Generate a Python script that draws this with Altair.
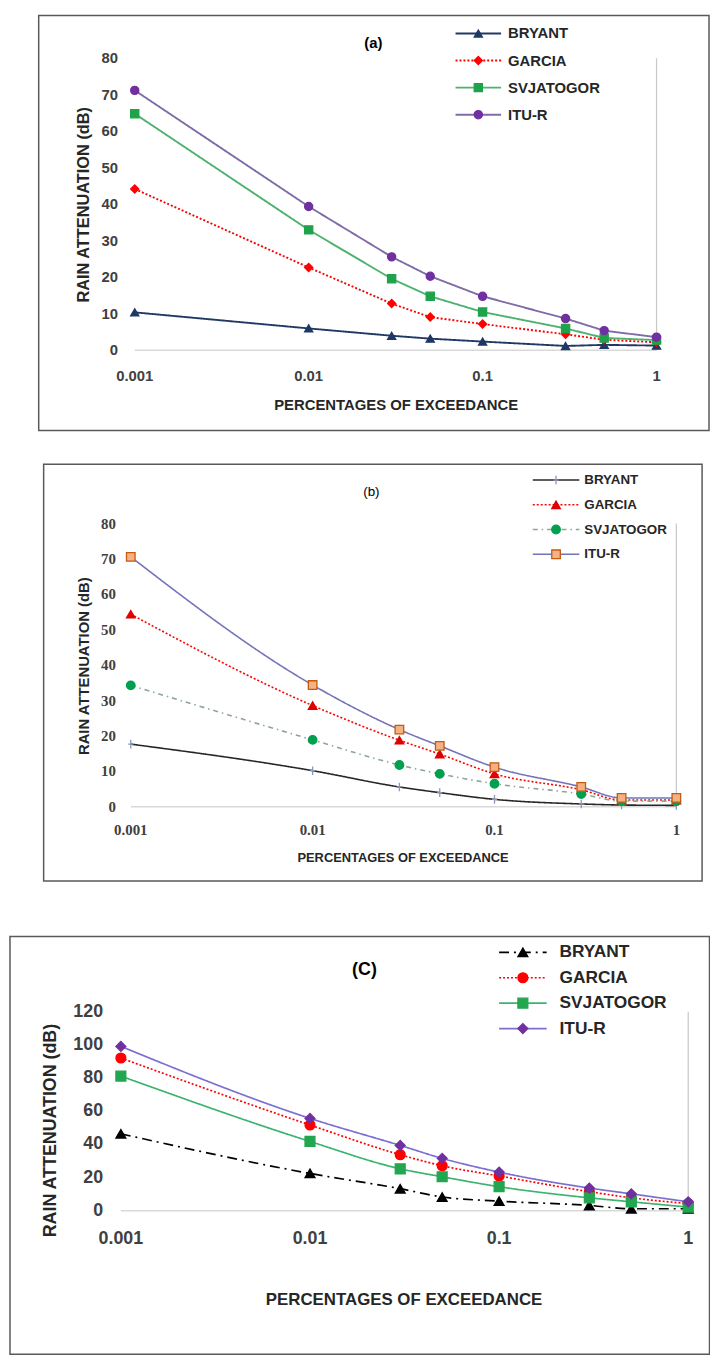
import altair as alt
import pandas as pd

# ---------------- data ----------------
X_PCT = [0.001, 0.01, 0.03, 0.05, 0.1, 0.3, 0.5, 1]
SERIES = ["BRYANT", "GARCIA", "SVJATOGOR", "ITU-R"]
X_TICKS = [0.001, 0.01, 0.1, 1]
Y_TICKS_AB = [0, 10, 20, 30, 40, 50, 60, 70, 80]
Y_TICKS_C = [0, 20, 40, 60, 80, 100, 120]
TITLES = ["(a)", "(b)", "(C)"]
X_TITLE = "PERCENTAGES OF EXCEEDANCE"
Y_TITLE = "RAIN ATTENUATION (dB)"

A_BRYANT = [10.4, 6.0, 4.0, 3.2, 2.4, 1.2, 1.5, 1.3]
A_GARCIA = [44.2, 22.7, 12.8, 9.1, 7.2, 4.4, 2.9, 2.2]
A_SVJATOGOR = [64.8, 33.0, 19.6, 14.8, 10.5, 6.0, 3.4, 2.8]
A_ITUR = [71.2, 39.4, 25.6, 20.3, 14.8, 8.7, 5.4, 3.6]

B_BRYANT = [17.7, 10.2, 5.6, 4.0, 2.1, 0.8, 0.5, 0.4]
B_GARCIA = [54.4, 28.6, 18.8, 14.9, 9.3, 4.8, 1.9, 1.9]
B_SVJATOGOR = [34.3, 18.9, 11.8, 9.3, 6.5, 3.6, 1.6, 1.6]
B_ITUR = [70.6, 34.4, 21.8, 17.2, 11.2, 5.6, 2.5, 2.5]

C_BRYANT = [46.4, 22.5, 13.3, 8.3, 5.8, 3.2, 1.2, 1.2]
C_GARCIA = [92.1, 51.7, 33.8, 27.1, 21.0, 11.5, 7.8, 4.3]
C_SVJATOGOR = [81.2, 41.8, 25.3, 20.5, 14.5, 7.8, 5.4, 2.2]
C_ITUR = [99.1, 55.7, 39.4, 31.6, 23.3, 13.7, 10.2, 5.4]

DATA = [
    [A_BRYANT, A_GARCIA, A_SVJATOGOR, A_ITUR],
    [B_BRYANT, B_GARCIA, B_SVJATOGOR, B_ITUR],
    [C_BRYANT, C_GARCIA, C_SVJATOGOR, C_ITUR],
]
Y_TICKS = [Y_TICKS_AB, Y_TICKS_AB, Y_TICKS_C]


def frame(cols):
    rows = []
    for s, ys in zip(SERIES, cols):
        for x, y in zip(X_PCT, ys):
            rows.append({"x": x, "y": y, "series": s})
    return pd.DataFrame(rows)


# ---------------- layout / style ----------------
W, H = 709, 1354
FS_ = "Liberation Sans, Arial, sans-serif"
FSER = "Liberation Serif, Times New Roman, serif"
PLUS = "M0,-1L0,1M-0.6,0L0.6,0"
TXT = "#262626"
TICK = "#404040"

PANELS = [
    dict(x0=128, x1=655, yb=339, yt=44, ymax=80,
         border=(31, 708, 0.75, 420), title=(369, 29), title_fs=15, title_fw="bold",
         xlab_y=365, ylab_x=111, tick_font=FS_, tick_fs=15,
         xtitle=(392, 394), xtitle_fs=15, ytitle=(77, 192), ytitle_fs=16.5,
         leg_lx=(452, 498), leg_lab=505, leg_rows=(19, 101), leg_fs=15,
         line_colors=["#203864", "#ff0000", "#4cb270", "#7f6ba8"],
         dashes=[[1, 0], [2, 2], [1, 0], [1, 0]], interp="linear", lw=1.9,
         shapes=["triangle-up", "diamond", "square", "circle"],
         fills=["#1f3864", "#ff0000", "#1fa34a", "#7030a0"],
         strokes=["#1f3864", "#ff0000", "#1fa34a", "#7030a0"], size=68),
    dict(x0=124, x1=675, yb=800, yt=514, ymax=80,
         border=(36, 701, 454, 875), title=(367, 482), title_fs=13.5, title_fw="normal",
         xlab_y=824, ylab_x=109, tick_font=FSER, tick_fs=15,
         xtitle=(399, 852), xtitle_fs=13, ytitle=(77, 658), ytitle_fs=15,
         leg_lx=(530, 577), leg_lab=582, leg_rows=(470, 545), leg_fs=13.5,
         line_colors=["#262626", "#ff0000", "#8da696", "#7373b8"],
         dashes=[[1, 0], [2, 2], [5, 4, 1.5, 4], [1, 0]], interp="monotone", lw=1.6,
         shapes=[PLUS, "triangle-up", "circle", "square"],
         fills=["transparent", "#e00000", "#00a050", "#f4b183"],
         strokes=["#8c96b8", "#e00000", "#00a050", "#c55a11"], size=75),
    dict(x0=114, x1=687, yb=1208, yt=1007, ymax=120,
         border=(2, 708.5, 931, 1353), title=(360, 965), title_fs=18, title_fw="bold",
         xlab_y=1237, ylab_x=96, tick_font=FS_, tick_fs=18,
         xtitle=(400, 1298), xtitle_fs=17, ytitle=(43, 1127), ytitle_fs=18,
         leg_lx=(496, 544), leg_lab=557, leg_rows=(947, 1024), leg_fs=17.5,
         line_colors=["#000000", "#ff0000", "#3cb371", "#7b6fd0"],
         dashes=[[10, 5, 2, 5], [2, 2], [1, 0], [1, 0]], interp="monotone", lw=1.7,
         shapes=["triangle-up", "circle", "square", "diamond"],
         fills=["#000000", "#ff0000", "#22a64f", "#7030a0"],
         strokes=["#000000", "#ff0000", "#22a64f", "#7030a0"], size=100),
]


def enc_styles(g, field="series:N"):
    return dict(
        color=alt.Color(field, scale=alt.Scale(domain=SERIES, range=g["line_colors"]), legend=None),
        strokeDash=alt.StrokeDash(field, scale=alt.Scale(domain=SERIES, range=g["dashes"]), legend=None),
    )


def enc_markers(g, field="series:N"):
    return dict(
        shape=alt.Shape(field, scale=alt.Scale(domain=SERIES, range=g["shapes"]), legend=None),
        fill=alt.Fill(field, scale=alt.Scale(domain=SERIES, range=g["fills"]), legend=None),
        stroke=alt.Stroke(field, scale=alt.Scale(domain=SERIES, range=g["strokes"]), legend=None),
    )


def panel(cols, yticks, g, title):
    df = frame(cols)
    xs = alt.Scale(type="log", domain=[0.001, 1], range=[g["x0"], g["x1"]], nice=False)
    ys = alt.Scale(domain=[0, g["ymax"]], range=[g["yb"], g["yt"]], nice=False, zero=True)

    lines = alt.Chart(df).mark_line(strokeWidth=g["lw"], interpolate=g["interp"]).encode(
        x=alt.X("x:Q", scale=xs, axis=None),
        y=alt.Y("y:Q", scale=ys, axis=None),
        **enc_styles(g),
    )
    pts = alt.Chart(df).mark_point(filled=True, opacity=1, size=g["size"], strokeWidth=1.3).encode(
        x=alt.X("x:Q", scale=xs, axis=None),
        y=alt.Y("y:Q", scale=ys, axis=None),
        **enc_markers(g),
    )
    # x axis baseline at 0 and grey edge line at x = 1
    base_df = pd.DataFrame({"x": [X_TICKS[0]], "x2": [X_TICKS[-1]], "y": [0]})
    baseline = alt.Chart(base_df).mark_rule(color="#d9d9d9", strokeWidth=1.5).encode(
        x=alt.X("x:Q", scale=xs, axis=None), x2="x2:Q",
        y=alt.Y("y:Q", scale=ys, axis=None),
    )
    edge_df = pd.DataFrame({"x": [X_TICKS[-1]], "y": [0], "y2": [g["ymax"]]})
    edge = alt.Chart(edge_df).mark_rule(color="#c8c8c8", strokeWidth=1.2).encode(
        x=alt.X("x:Q", scale=xs, axis=None),
        y=alt.Y("y:Q", scale=ys, axis=None), y2="y2:Q",
    )
    # tick labels through the scales
    xt_df = pd.DataFrame({"v": X_TICKS, "lab": [f"{v:g}" for v in X_TICKS]})
    xlabels = alt.Chart(xt_df).mark_text(
        font=g["tick_font"], fontSize=g["tick_fs"], fontWeight="bold", color=TICK,
        align="center", baseline="middle",
    ).encode(x=alt.X("v:Q", scale=xs, axis=None), y=alt.value(g["xlab_y"]), text="lab:N")
    yt_df = pd.DataFrame({"v": yticks, "lab": [str(v) for v in yticks]})
    ylabels = alt.Chart(yt_df).mark_text(
        font=g["tick_font"], fontSize=g["tick_fs"], fontWeight="bold", color=TICK,
        align="right", baseline="middle",
    ).encode(y=alt.Y("v:Q", scale=ys, axis=None), x=alt.value(g["ylab_x"]), text="lab:N")
    # axis titles
    xt = alt.Chart(alt.Data(values=[{"t": X_TITLE}])).mark_text(
        font=FS_, fontSize=g["xtitle_fs"], fontWeight="bold", color=TXT,
        align="center", baseline="middle",
    ).encode(x=alt.value(g["xtitle"][0]), y=alt.value(g["xtitle"][1]), text="t:N")
    yt = alt.Chart(alt.Data(values=[{"t": Y_TITLE}])).mark_text(
        font=FS_, fontSize=g["ytitle_fs"], fontWeight="bold", color=TXT,
        align="center", baseline="middle", angle=270,
    ).encode(x=alt.value(g["ytitle"][0]), y=alt.value(g["ytitle"][1]), text="t:N")
    # frame and panel title
    bx0, bx1, by0, by1 = g["border"]
    border = alt.Chart(alt.Data(values=[{"k": 1}])).mark_rect(
        fill="transparent", stroke="#595959", strokeWidth=1.5
    ).encode(x=alt.value(bx0), x2=alt.value(bx1), y=alt.value(by0), y2=alt.value(by1))
    ttl = alt.Chart(alt.Data(values=[{"t": title}])).mark_text(
        font=FS_, fontSize=g["title_fs"], fontWeight=g["title_fw"], color="#000000",
        align="center", baseline="middle",
    ).encode(x=alt.value(g["title"][0]), y=alt.value(g["title"][1]), text="t:N")

    return alt.layer(border, baseline, edge, lines, pts, xlabels, ylabels, xt, yt, ttl)


def legend(g):
    leg_df = pd.DataFrame({"series": SERIES})
    ly = alt.Y("series:N", sort=SERIES,
               scale=alt.Scale(type="point", domain=SERIES, range=list(g["leg_rows"]), padding=0),
               axis=None)
    lx0, lx1 = g["leg_lx"]
    seg = alt.Chart(leg_df).mark_rule(strokeWidth=g["lw"]).encode(
        x=alt.value(lx0), x2=alt.value(lx1), y=ly, **enc_styles(g)
    )
    mk = alt.Chart(leg_df).mark_point(filled=True, opacity=1, size=g["size"], strokeWidth=1.3).encode(
        x=alt.value((lx0 + lx1) / 2), y=ly, **enc_markers(g)
    )
    lab = alt.Chart(leg_df).mark_text(
        font=FS_, fontSize=g["leg_fs"], fontWeight="bold", color=TXT,
        align="left", baseline="middle",
    ).encode(x=alt.value(g["leg_lab"]), y=ly, text="series:N")
    return alt.layer(seg, mk, lab)


layers = []
for d, yt_, g, t in zip(DATA, Y_TICKS, PANELS, TITLES):
    layers.append(panel(d, yt_, g, t))
    layers.append(legend(g))

chart = (
    alt.layer(*layers)
    .resolve_scale(x="independent", y="independent", color="independent",
                   strokeDash="independent", fill="independent", shape="independent",
                   stroke="independent")
    .properties(width=W, height=H, padding=0, autosize=alt.AutoSizeParams(type="none"),
                background="white")
    .configure_view(stroke=None)
)

chart.save("out.html", embed_options={"renderer": "svg", "actions": False})
